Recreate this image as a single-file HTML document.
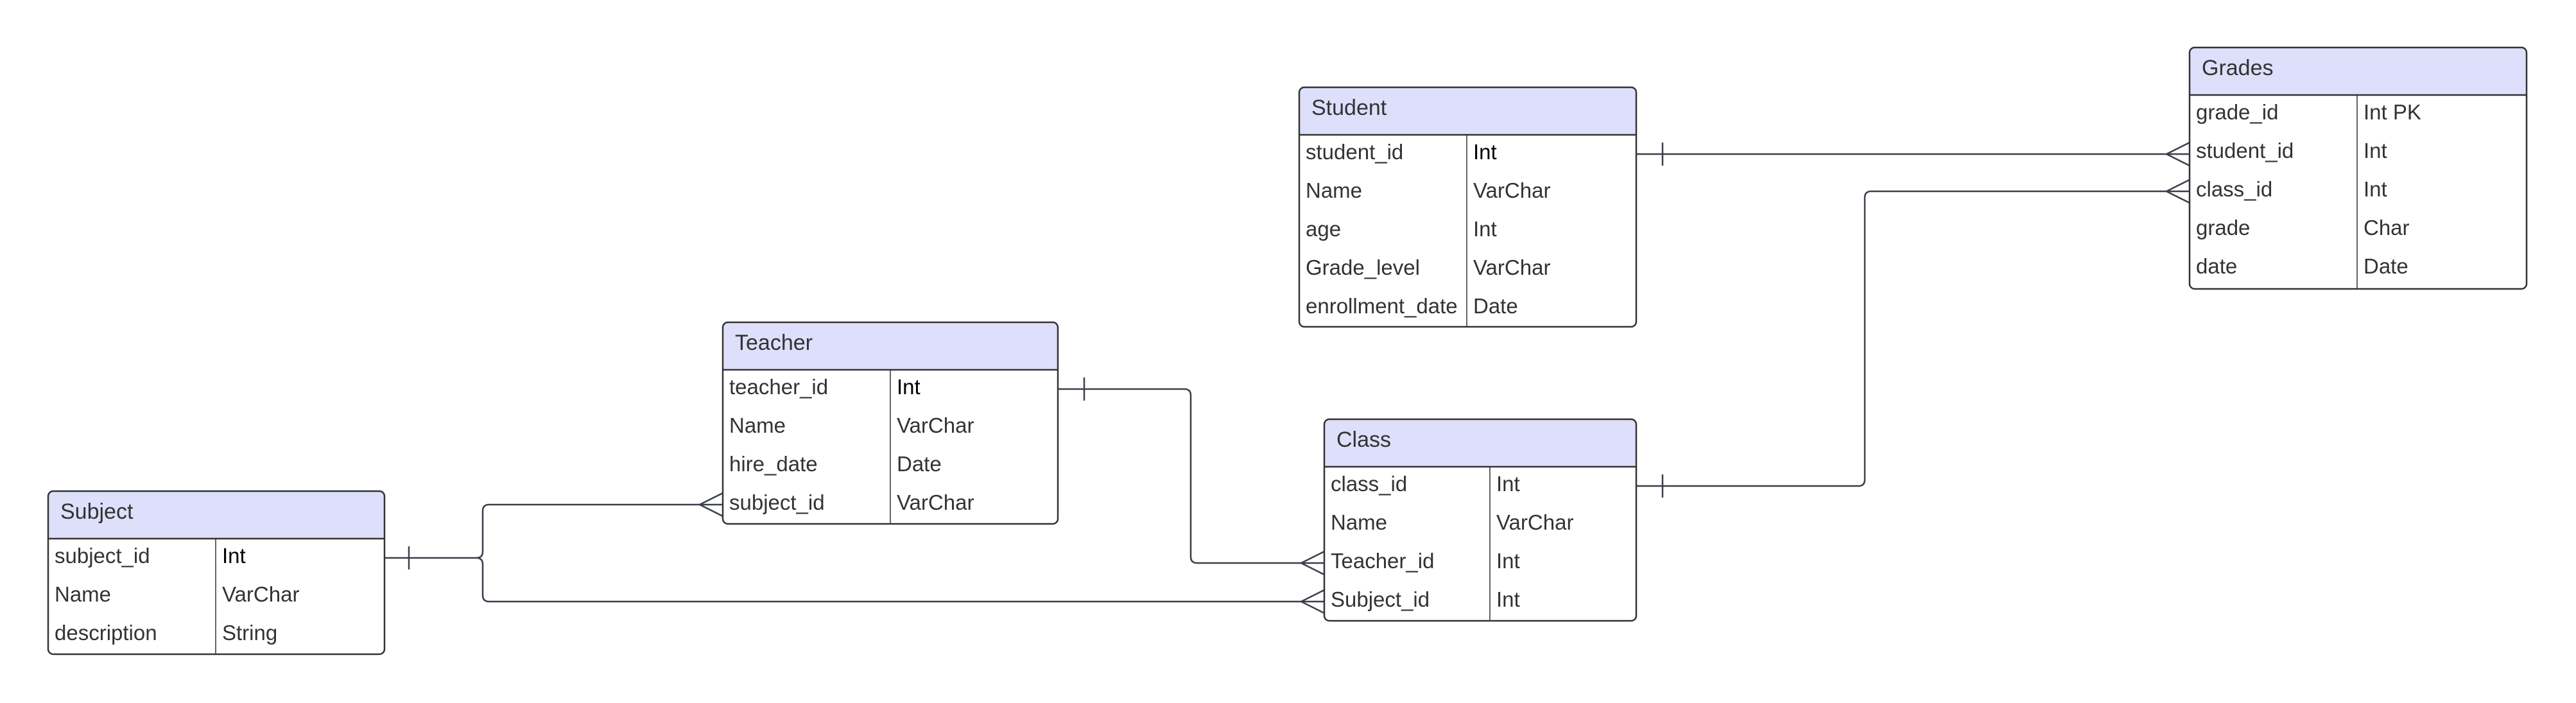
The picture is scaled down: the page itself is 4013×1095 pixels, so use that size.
<!DOCTYPE html>
<html><head><meta charset="utf-8"><style>
html,body{margin:0;padding:0;background:#fff;}
svg{display:block;}
text{font-family:"Liberation Sans",sans-serif;fill:#333;}
.h{font-size:34px;}
.r{font-size:33px;}
</style></head><body>
<svg width="4013" height="1095" viewBox="0 0 4013 1095" xmlns="http://www.w3.org/2000/svg">
<g fill="none" stroke="#3a3f4a" stroke-width="2.5">
<path d="M2549 240 H3411"/>
<path d="M2590 222 V258"/>
<path d="M3411 222 L3375 240 L3411 258"/>
<path d="M2549 757 H2895 Q2905 757 2905 747 V308 Q2905 298 2915 298 H3411"/>
<path d="M2590 739 V775"/>
<path d="M3411 280 L3375 298 L3411 316"/>
<path d="M1648 606 H1845 Q1855 606 1855 616 V867 Q1855 877 1865 877 H2063"/>
<path d="M1689 588 V624"/>
<path d="M2063 859 L2027 877 L2063 895"/>
<path d="M599 869 H742 Q752 869 752 859 V796 Q752 786 762 786 H1126"/>
<path d="M742 869 Q752 869 752 879 V927 Q752 937 762 937 H2063"/>
<path d="M637 851 V887"/>
<path d="M1126 768 L1090 786 L1126 804"/>
<path d="M2063 919 L2027 937 L2063 955"/>
</g>

<g>
<path d="M2024 210 V144 Q2024 136 2032 136 H2541 Q2549 136 2549 144 V210 Z" fill="#dddffb"/>
<rect x="2024" y="136" width="525" height="373" rx="8" fill="none" stroke="#333" stroke-width="2.5"/>
<line x1="2024" y1="210" x2="2549" y2="210" stroke="#333" stroke-width="2.5"/>
<line x1="2285" y1="210" x2="2285" y2="509" stroke="#333" stroke-width="1.5"/>
<text class="h" x="2043" y="179">Student</text>
<text class="r" x="2034" y="248">student_id</text><text class="r" x="2295" y="248" style="fill:#000">Int</text>
<text class="r" x="2034" y="308">Name</text><text class="r" x="2295" y="308">VarChar</text>
<text class="r" x="2034" y="368">age</text><text class="r" x="2295" y="368">Int</text>
<text class="r" x="2034" y="428">Grade_level</text><text class="r" x="2295" y="428">VarChar</text>
<text class="r" x="2034" y="488">enrollment_date</text><text class="r" x="2295" y="488">Date</text>
</g>
<g>
<path d="M3411 148 V82 Q3411 74 3419 74 H3928 Q3936 74 3936 82 V148 Z" fill="#dddffb"/>
<rect x="3411" y="74" width="525" height="376" rx="8" fill="none" stroke="#333" stroke-width="2.5"/>
<line x1="3411" y1="148" x2="3936" y2="148" stroke="#333" stroke-width="2.5"/>
<line x1="3672" y1="148" x2="3672" y2="450" stroke="#333" stroke-width="1.5"/>
<text class="h" x="3430" y="117">Grades</text>
<text class="r" x="3421" y="186">grade_id</text><text class="r" x="3682" y="186">Int PK</text>
<text class="r" x="3421" y="246">student_id</text><text class="r" x="3682" y="246">Int</text>
<text class="r" x="3421" y="306">class_id</text><text class="r" x="3682" y="306">Int</text>
<text class="r" x="3421" y="366">grade</text><text class="r" x="3682" y="366">Char</text>
<text class="r" x="3421" y="426">date</text><text class="r" x="3682" y="426">Date</text>
</g>
<g>
<path d="M1126 576 V510 Q1126 502 1134 502 H1640 Q1648 502 1648 510 V576 Z" fill="#dddffb"/>
<rect x="1126" y="502" width="522" height="314" rx="8" fill="none" stroke="#333" stroke-width="2.5"/>
<line x1="1126" y1="576" x2="1648" y2="576" stroke="#333" stroke-width="2.5"/>
<line x1="1387" y1="576" x2="1387" y2="816" stroke="#333" stroke-width="1.5"/>
<text class="h" x="1145" y="545">Teacher</text>
<text class="r" x="1136" y="614">teacher_id</text><text class="r" x="1397" y="614" style="fill:#000">Int</text>
<text class="r" x="1136" y="674">Name</text><text class="r" x="1397" y="674">VarChar</text>
<text class="r" x="1136" y="734">hire_date</text><text class="r" x="1397" y="734">Date</text>
<text class="r" x="1136" y="794">subject_id</text><text class="r" x="1397" y="794">VarChar</text>
</g>
<g>
<path d="M2063 727 V661 Q2063 653 2071 653 H2541 Q2549 653 2549 661 V727 Z" fill="#dddffb"/>
<rect x="2063" y="653" width="486" height="314" rx="8" fill="none" stroke="#333" stroke-width="2.5"/>
<line x1="2063" y1="727" x2="2549" y2="727" stroke="#333" stroke-width="2.5"/>
<line x1="2321" y1="727" x2="2321" y2="967" stroke="#333" stroke-width="1.5"/>
<text class="h" x="2082" y="696">Class</text>
<text class="r" x="2073" y="765">class_id</text><text class="r" x="2331" y="765">Int</text>
<text class="r" x="2073" y="825">Name</text><text class="r" x="2331" y="825">VarChar</text>
<text class="r" x="2073" y="885">Teacher_id</text><text class="r" x="2331" y="885">Int</text>
<text class="r" x="2073" y="945">Subject_id</text><text class="r" x="2331" y="945">Int</text>
</g>
<g>
<path d="M75 839 V773 Q75 765 83 765 H591 Q599 765 599 773 V839 Z" fill="#dddffb"/>
<rect x="75" y="765" width="524" height="254" rx="8" fill="none" stroke="#333" stroke-width="2.5"/>
<line x1="75" y1="839" x2="599" y2="839" stroke="#333" stroke-width="2.5"/>
<line x1="336" y1="839" x2="336" y2="1019" stroke="#333" stroke-width="1.5"/>
<text class="h" x="94" y="808">Subject</text>
<text class="r" x="85" y="877">subject_id</text><text class="r" x="346" y="877" style="fill:#000">Int</text>
<text class="r" x="85" y="937">Name</text><text class="r" x="346" y="937">VarChar</text>
<text class="r" x="85" y="997">description</text><text class="r" x="346" y="997">String</text>
</g>
</svg>
</body></html>
